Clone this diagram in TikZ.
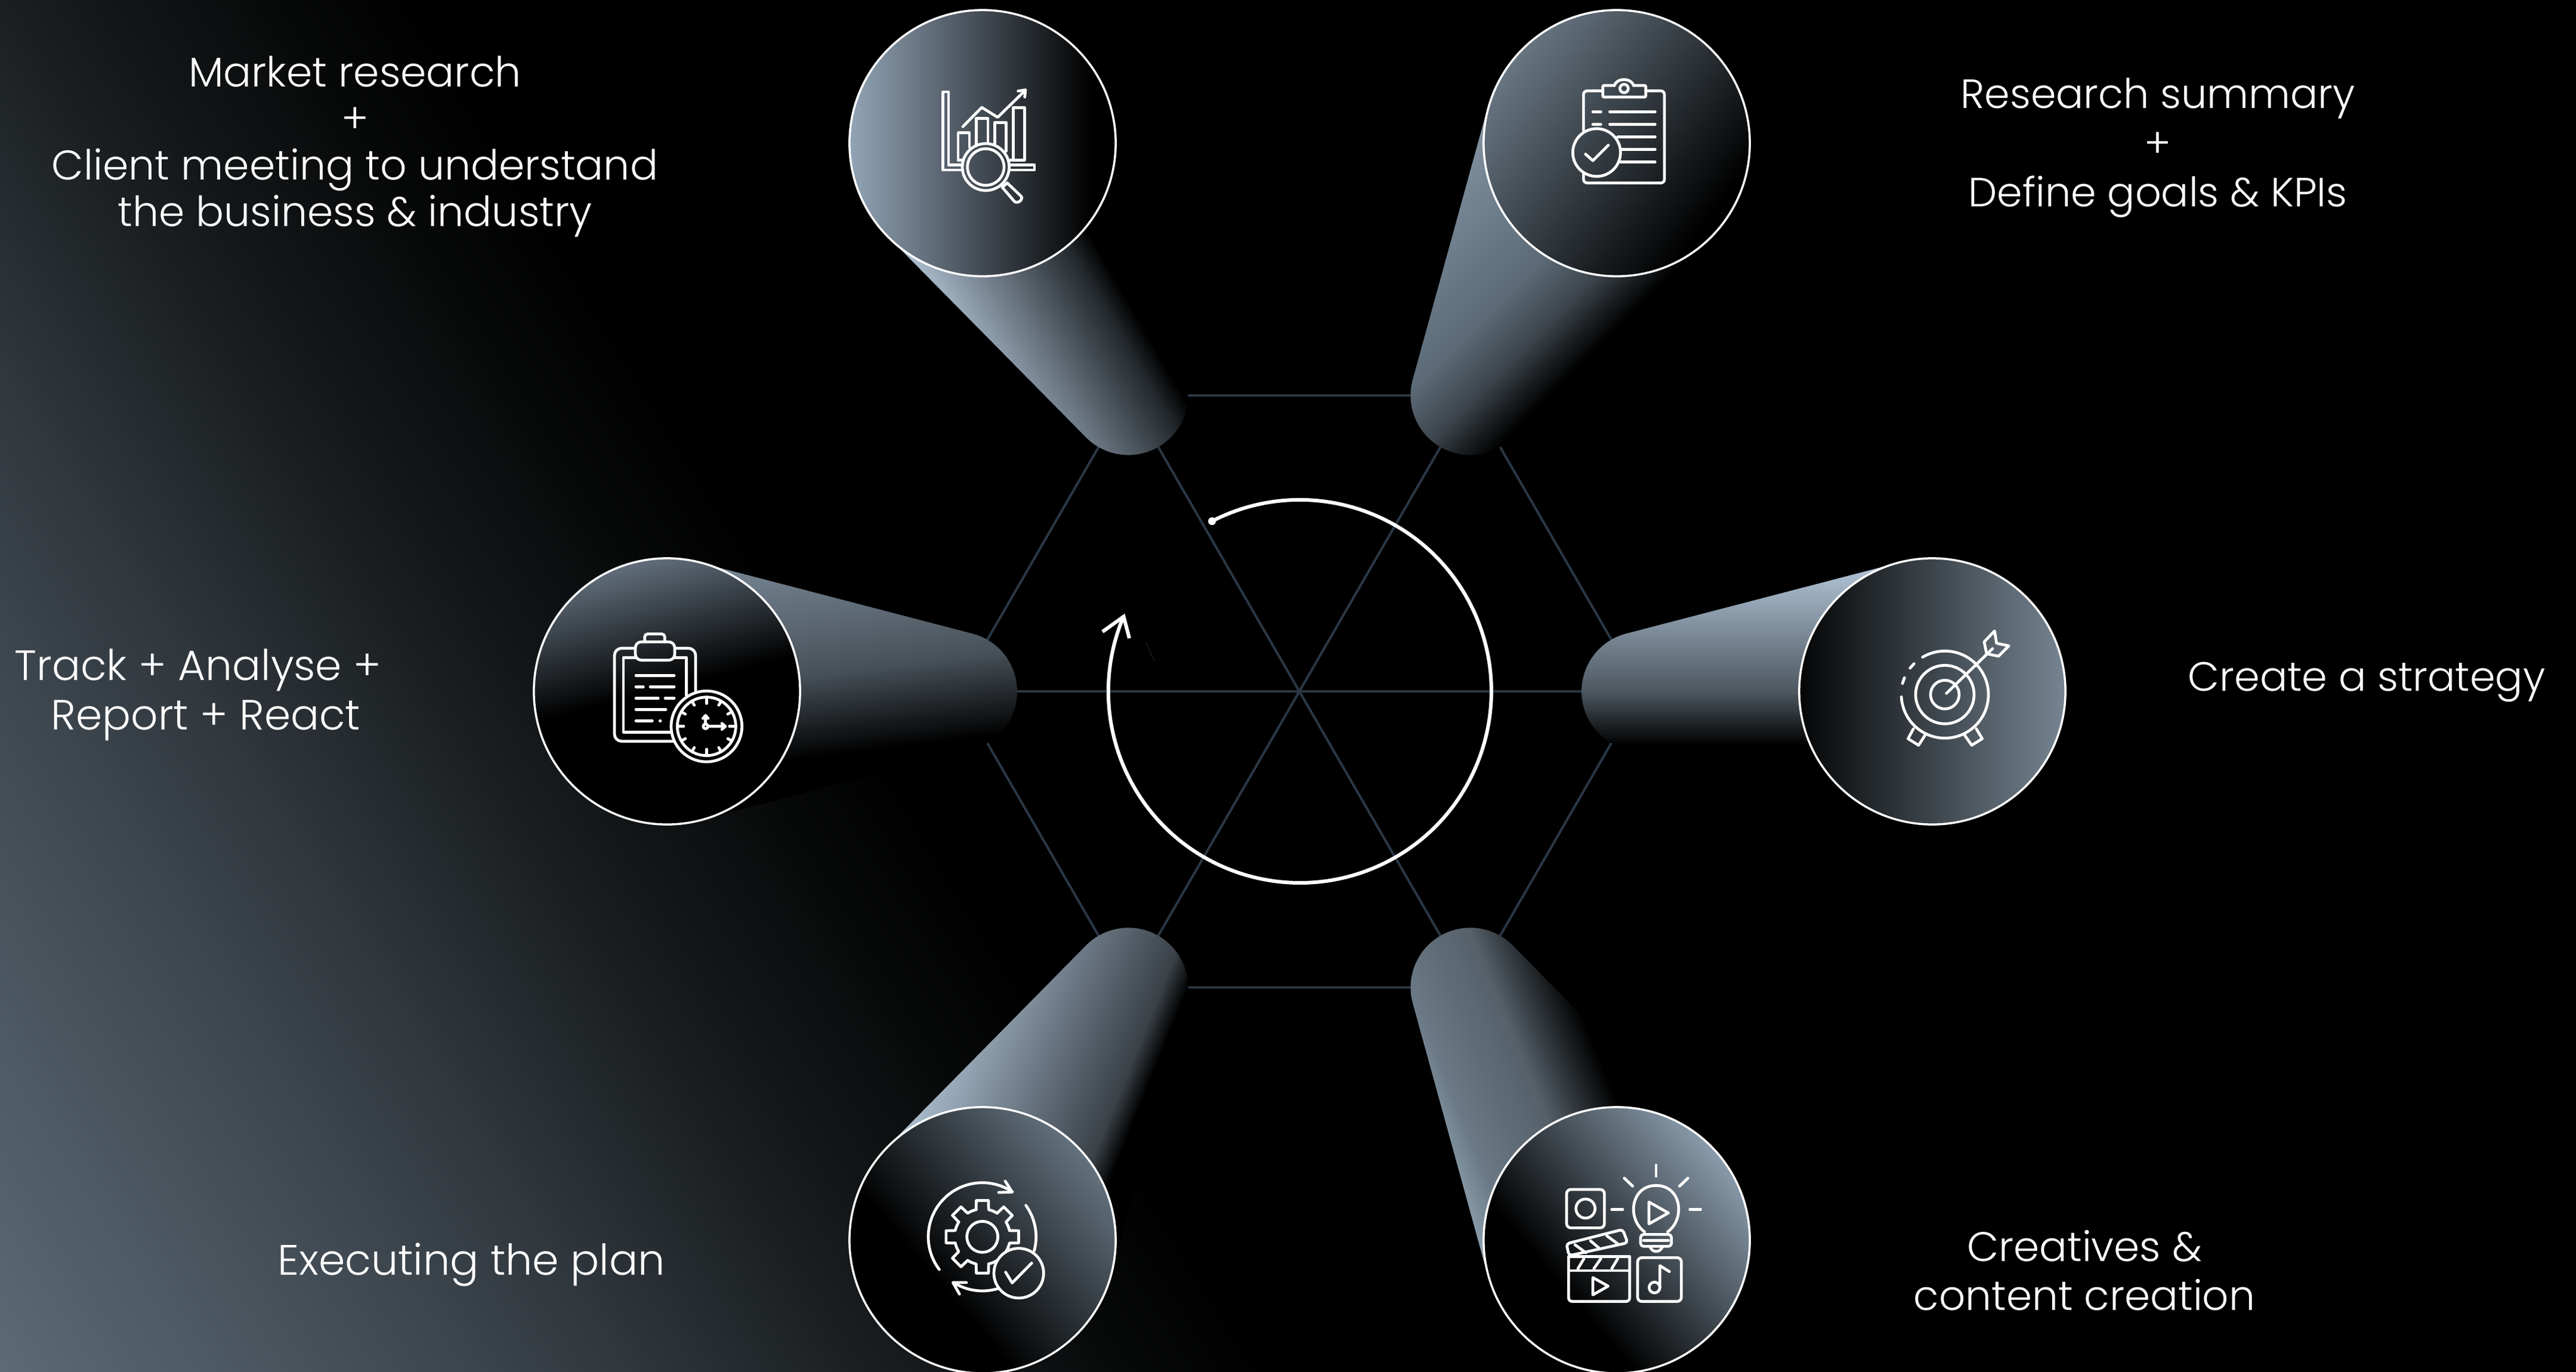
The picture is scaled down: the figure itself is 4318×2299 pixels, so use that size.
\documentclass[tikz,border=0pt]{standalone}
\usepackage{fontspec}
\usetikzlibrary{calc}
\setmainfont{Poppins}[UprightFont=* Light]
\definecolor{hexline}{HTML}{2A3744}
\definecolor{strayline}{HTML}{1C2530}
% tube colours
\definecolor{ta}{RGB}{170,188,205}\definecolor{ta0}{RGB}{35,40,44}
\definecolor{tb0}{RGB}{62,70,77}\definecolor{tb1}{RGB}{91,106,118}\definecolor{tb3}{RGB}{123,139,154}\definecolor{tb2}{RGB}{128,144,160}
\definecolor{tc1}{RGB}{77,87,96}\definecolor{tc2}{RGB}{172,191,209}
\definecolor{td1}{RGB}{85,96,105}\definecolor{td2}{RGB}{106,121,133}\definecolor{td3}{RGB}{150,170,185}
\definecolor{te1}{RGB}{58,65,71}\definecolor{te2}{RGB}{106,118,131}\definecolor{te}{RGB}{168,187,204}
\definecolor{tf1}{RGB}{72,81,89}\definecolor{tf2}{RGB}{118,133,147}
% disc colours
\definecolor{da}{RGB}{146,164,182}\definecolor{db}{RGB}{104,118,130}\definecolor{dc}{RGB}{118,133,146}
\definecolor{dd}{RGB}{137,155,171}\definecolor{de}{RGB}{100,114,126}\definecolor{df}{RGB}{97,110,122}
% background colours
\definecolor{bgy}{RGB}{6,7,7}\definecolor{bgz}{RGB}{12,14,15}\definecolor{bga}{RGB}{19,22,24}\definecolor{bgb}{RGB}{27,31,33}\definecolor{bgd}{RGB}{48,55,61}
\definecolor{bge}{RGB}{64,73,81}\definecolor{bgf}{RGB}{78,90,100}\definecolor{bgg}{RGB}{91,106,116}
\pgfdeclareverticalshading{tubeA}{100bp}{color(0bp)=(black);color(48.67bp)=(black);color(49.33bp)=(ta0);color(53.42bp)=(ta);color(100bp)=(ta)}
\pgfdeclareverticalshading{tubeB}{100bp}{color(0bp)=(black);color(46.3bp)=(black);color(47.83bp)=(tb0);color(49.15bp)=(tb1);color(52.5bp)=(tb3);color(52.83bp)=(tb2);color(100bp)=(tb2)}
\pgfdeclareverticalshading{tubeC}{100bp}{color(0bp)=(black);color(48.5bp)=(black);color(50bp)=(tc1);color(53.33bp)=(tc2);color(100bp)=(tc2)}
\pgfdeclareverticalshading{tubeD}{100bp}{color(0bp)=(black);color(48.5bp)=(black);color(50.5bp)=(td1);color(52.7bp)=(td2);color(54bp)=(td3);color(100bp)=(td3)}
\pgfdeclareverticalshading{tubeE}{100bp}{color(0bp)=(black);color(47.32bp)=(black);color(48bp)=(te1);color(50.33bp)=(te2);color(53.13bp)=(te);color(100bp)=(te)}
\pgfdeclareverticalshading{tubeF}{100bp}{color(0bp)=(black);color(47.67bp)=(black);color(50bp)=(tf1);color(53.33bp)=(tf2);color(100bp)=(tf2)}
\pgfdeclareverticalshading{discA}{100bp}{color(0bp)=(black);color(46.95bp)=(black);color(53.72bp)=(da);color(100bp)=(da)}
\pgfdeclareverticalshading{discB}{100bp}{color(0bp)=(black);color(46.67bp)=(black);color(53.72bp)=(db);color(100bp)=(db)}
\pgfdeclareverticalshading{discC}{100bp}{color(0bp)=(black);color(46.02bp)=(black);color(53.72bp)=(dc);color(100bp)=(dc)}
\pgfdeclareverticalshading{discD}{100bp}{color(0bp)=(black);color(47.98bp)=(black);color(53.72bp)=(dd);color(100bp)=(dd)}
\pgfdeclareverticalshading{discE}{100bp}{color(0bp)=(black);color(48.28bp)=(black);color(53.72bp)=(de);color(100bp)=(de)}
\pgfdeclareverticalshading{discF}{100bp}{color(0bp)=(black);color(50.08bp)=(black);color(53.72bp)=(df);color(100bp)=(df)}
\pgfdeclareverticalshading{bgshade}{100bp}{color(0bp)=(black);color(44.49bp)=(black);color(46.74bp)=(bgy);color(48.24bp)=(bgz);color(50.11bp)=(bga);color(51.99bp)=(bgb);color(56.11bp)=(bgd);color(59.74bp)=(bge);color(63.61bp)=(bgf);color(67.21bp)=(bgg);color(100bp)=(bgg)}
% square of half side 1500 whose centre is the reference point of the gradient
\newcommand\gradsq[4]{\shade[shading=#1,shading angle=#2] ({#3-1500},{#4-1500}) rectangle ({#3+1500},{#4+1500});}
% tapered tube from hub to disc, along direction #1
\newcommand\tube[5]{\begin{scope}
  \clip[shift={(2178,-1159)},rotate=#1] (1004.8,215.8) -- (547.8,96.8) arc[start angle=104.6,end angle=255.4,radius=100] -- (1004.8,-215.8) -- cycle;
  \gradsq{#2}{#3}{#4}{#5}
\end{scope}}
\newcommand\disc[5]{\begin{scope}
  \clip (#4,#5) circle[radius=223];
  \gradsq{#2}{#3}{#4}{#5}
\end{scope}
\node[ringnode] (#1) at (#4,#5) {};}
\newcommand\capfont[2]{\fontsize{#1pt}{#2pt}\selectfont}
\tikzset{
  ringnode/.style={circle,draw=white,line width=0.035cm,minimum size=4.46cm,inner sep=0pt},
  hexstroke/.style={draw=hexline,line width=0.04cm},
  iconstroke/.style={draw=white,line width=0.047cm,line cap=round,line join=round},
  captiontext/.style={text=white,align=center,inner sep=0pt},
  sweepline/.style={draw=white,line width=0.06cm},
  iconframe/.style={xscale=1/3,yscale=-1/3},
}
\begin{document}
\begin{tikzpicture}[x=0.01cm,y=0.01cm]
\useasboundingbox (0,0) rectangle (4318,-2299);
\fill[black] (-10,10) rectangle (4328,-2309);
% background glow
\begin{scope}
 \clip (-10,10) rectangle (4328,-2309);
 \shade[shading=bgshade,shading angle=122] (-1000,-3300) rectangle (3000,700);
\end{scope}
% hexagon frame
\coordinate (hub) at (2178,-1159);
\foreach \a/\n in {0/v0,60/v1,120/v2,180/v3,240/v4,300/v5}{\coordinate (\n) at ($(hub)+(\a:573)$);}
\foreach \n in {v0,v1,v2,v3,v4,v5}{\draw[hexstroke] (hub) -- (\n);}
\draw[hexstroke] (v0) -- (v1) -- (v2) -- (v3) -- (v4) -- (v5) -- cycle;
% tubes
\tube{120}{tubeA}{120}{1647}{-240}
\tube{60}{tubeB}{45}{2710}{-240}
\tube{0}{tubeC}{0}{3239}{-1159}
\tube{-60}{tubeD}{112.3}{2710}{-2079}
\tube{-120}{tubeE}{68}{1647}{-2079}
\tube{180}{tubeF}{6.9}{1118}{-1159}
% discs
\disc{discone}{discA}{90}{1647}{-240}
\disc{disctwo}{discB}{53.1}{2710}{-240}
\disc{discthree}{discC}{-90}{3239}{-1159}
\disc{discfour}{discD}{-49.5}{2710}{-2079}
\disc{discfive}{discE}{-49.5}{1647}{-2079}
\disc{discsix}{discF}{14.5}{1118}{-1159}
% central sweep
\coordinate (sweepstart) at (2031.6,-873.7);
\coordinate (wingone) at (1848,-1059);
\coordinate (sweeptip) at (1883.5,-1033.6);
\coordinate (wingtwo) at (1893,-1070);
\coordinate (strayone) at (1921,-1077);
\coordinate (straytwo) at (1935,-1108);
\draw[strayline,line width=0.01cm] (strayone) -- (straytwo);
\draw[sweepline] (sweepstart) arc[start angle=117.3,end angle=-203,radius=321];
\draw[sweepline] (wingone) -- (sweeptip) -- (wingtwo);
\fill[white] (sweepstart) circle[radius=6.5];
% icon: chart and magnifier
\begin{scope}[shift={(1500,-100)},iconframe]
 \draw[iconstroke] (340,555) -- (242,555) -- (242,162) -- (270,162) -- (270,530) -- (340,530);
 \draw[iconstroke] (580,530) -- (702,530) -- (702,555) -- (578,555);
 \draw[iconstroke] (345,505) -- (318,505) -- (318,368) -- (375,368) -- (375,440);
 \draw[iconstroke] (410,425) -- (410,295) -- (468,295) -- (468,420);
 \draw[iconstroke] (503,425) -- (503,317) -- (560,317) -- (560,460);
 \draw[iconstroke] (578,505) -- (595,505) -- (595,242) -- (652,242) -- (652,505) -- (595,505);
 \draw[iconstroke] (342,337) -- (437,240) -- (517,290) -- (655,155);
 \draw[iconstroke] (620,158) -- (657,152) -- (653,188);
 \draw[iconstroke] (457,540) circle[radius=118];
 \draw[iconstroke] (457,540) circle[radius=92];
 \draw[iconstroke] (565,620) -- (540,642) -- (600,712) .. controls (618,730) and (650,700) .. (633,685) -- (565,620);
\end{scope}
% icon: clipboard with check
\begin{scope}[shift={(2560,-90)},iconframe]
 \draw[iconstroke,rounded corners=0.06cm] (380,187) -- (283,187) -- (283,385);
 \draw[iconstroke,rounded corners=0.06cm] (596,187) -- (690,187) -- (690,650) -- (283,650) -- (283,605);
 \draw[iconstroke,rounded corners=0.02cm] (438,160) -- (380,160) -- (380,218) -- (596,218) -- (596,160) -- (535,160);
 \draw[iconstroke] (438,160) .. controls (450,120) and (523,120) .. (535,160);
 \draw[iconstroke] (487,175) circle[radius=21];
 \foreach \yy in {292,355}{\draw[iconstroke] (330,\yy) -- (370,\yy); \draw[iconstroke] (415,\yy) -- (643,\yy);}
 \draw[iconstroke] (455,418) -- (643,418);
 \draw[iconstroke] (470,481) -- (643,481);
 \draw[iconstroke] (470,544) -- (643,544);
 \draw[iconstroke] (349,497) circle[radius=120];
 \draw[iconstroke] (293,505) -- (330,538) -- (408,460);
\end{scope}
% icon: target
\begin{scope}[shift={(3130,-1010)},iconframe]
 \draw[iconstroke] (390,463) circle[radius=72];
 \draw[iconstroke] (390,463) circle[radius=147];
 \draw[iconstroke] (278,275) arc[start angle=-120.8,end angle=177,radius=219];
 \draw[iconstroke] (215,330) -- (235,308);
 \draw[iconstroke] (177,407) -- (187,378);
 \draw[iconstroke] (398,457) -- (630,232);
 \draw[iconstroke] (600,258) -- (588,198) -- (640,143) -- (650,205) -- (712,218) -- (660,270) -- cycle;
 \draw[iconstroke] (232,635) -- (205,685) -- (258,718) -- (290,668);
 \draw[iconstroke] (490,668) -- (525,718) -- (578,685) -- (548,635);
\end{scope}
% icon: creative assets
\begin{scope}[shift={(2580,-1930)},iconframe]
 \draw[iconstroke,rounded corners=0.07cm] (138,192) rectangle (328,385);
 \draw[iconstroke] (233,288) circle[radius=48];
 \draw[iconstroke] (365,292) -- (420,292);
 \draw[iconstroke] (530,405) .. controls (440,340) and (460,172) .. (588,172) .. controls (716,172) and (736,340) .. (646,405);
 \draw[iconstroke,rounded corners=0.05cm] (510,418) rectangle (665,478);
 \draw[iconstroke] (525,448) -- (650,448);
 \draw[iconstroke,rounded corners=0.04cm] (555,478) -- (572,503) -- (605,503) -- (622,478);
 \draw[iconstroke] (552,255) -- (552,365) -- (650,310) -- cycle;
 \draw[iconstroke] (588,70) -- (588,125);
 \draw[iconstroke] (428,135) -- (470,175);
 \draw[iconstroke] (748,135) -- (706,175);
 \draw[iconstroke] (758,292) -- (812,292);
 \draw[iconstroke,rounded corners=0.06cm] (148,530) -- (148,755) -- (455,755) -- (455,530);
 \draw[iconstroke] (148,530) -- (455,530);
 \draw[iconstroke] (148,600) -- (455,600);
 \draw[iconstroke] (195,590) -- (225,540);
 \draw[iconstroke] (275,590) -- (310,540);
 \draw[iconstroke] (365,590) -- (395,540);
 \draw[iconstroke,rounded corners=0.05cm] (137,465) -- (420,393) -- (445,460) -- (150,525) -- cycle;
 \draw[iconstroke] (180,470) -- (235,510);
 \draw[iconstroke] (258,450) -- (305,490);
 \draw[iconstroke] (340,425) -- (395,465);
 \draw[iconstroke] (270,635) -- (270,722) -- (347,678) -- cycle;
 \draw[iconstroke,rounded corners=0.07cm] (495,535) rectangle (715,755);
 \draw[iconstroke] (580,685) circle[radius=27];
 \draw[iconstroke] (607,685) -- (607,575) -- (655,605);
\end{scope}
% icon: gear cycle
\begin{scope}[shift={(1520,-1960)},iconframe]
 \begin{scope}[even odd rule]
  \clip (0,0) rectangle (900,750) (563,523) circle[radius=125];
  \begin{scope}[shift={(380,340)}]
   \foreach \a in {0,45,...,315}{
    \draw[iconstroke] (\a-13:140) -- (\a-9.5:185) -- (\a+9.5:185) -- (\a+13:140) arc[start angle=\a+13,end angle=\a+32,radius=140];
   }
   \draw[iconstroke] (0,0) circle[radius=78];
  \end{scope}
 \end{scope}
 \begin{scope}[shift={(380,340)}]
  \draw[iconstroke] (142.8:272) arc[start angle=142.8,end angle=303.7,radius=272];
  \draw[iconstroke] (-35.9:270) arc[start angle=-35.9,end angle=15,radius=270];
  \draw[iconstroke] (72.5:272) arc[start angle=72.5,end angle=122,radius=272];
 \end{scope}
 \draw[iconstroke] (495,60) -- (530,115) -- (462,117);
 \draw[iconstroke] (300,570) -- (232,570) -- (265,628);
 \draw[iconstroke] (563,523) circle[radius=125];
 \draw[iconstroke] (497,518) -- (530,572) -- (628,472);
\end{scope}
% icon: clipboard with clock
\begin{scope}[shift={(990,-1040)},iconframe]
 \draw[iconstroke,rounded corners=0.12cm] (225,140) -- (120,140) -- (120,608) -- (415,608);
 \draw[iconstroke,rounded corners=0.12cm] (423,140) -- (528,140) -- (528,355);
 \draw[iconstroke] (405,562) -- (165,562) -- (165,187) -- (225,187);
 \draw[iconstroke] (423,187) -- (482,187) -- (482,378);
 \draw[iconstroke,rounded corners=0.1cm] (225,200) -- (225,108) -- (423,108) -- (423,200) -- cycle;
 \draw[iconstroke,rounded corners=0.05cm] (272,108) -- (272,68) -- (373,68) -- (373,108);
 \draw[iconstroke] (228,277) -- (420,277);
 \draw[iconstroke] (228,334) -- (265,334);
 \draw[iconstroke] (300,334) -- (420,334);
 \draw[iconstroke] (228,391) -- (340,391);
 \draw[iconstroke] (375,391) -- (420,391);
 \draw[iconstroke] (228,448) -- (378,448);
 \draw[iconstroke] (228,505) -- (310,505);
 \draw[iconstroke] (349,505) -- (351,505);
 \draw[iconstroke] (583,533) circle[radius=178];
 \draw[iconstroke] (583,533) circle[radius=147];
 \begin{scope}[shift={(583,533)}]
  \foreach \a in {0,90,180,270}{\draw[iconstroke] (\a:147) -- (\a:115);}
  \foreach \a in {30,60,120,150,210,240,300,330}{\draw[iconstroke] (\a:147) -- (\a:123);}
 \end{scope}
 \draw[iconstroke] (578,533) circle[radius=12];
 \draw[iconstroke] (590,533) -- (675,533);
 \draw[iconstroke] (660,518) -- (678,533) -- (660,548);
 \draw[iconstroke] (578,520) -- (578,480);
 \draw[iconstroke] (565,493) -- (578,478) -- (591,493);
\end{scope}
% captions
\node[captiontext,font=\capfont{19.8}{22.2}] (capmarket) at (595,-246) {Market research\\+\\Client meeting to understand\\the business \& industry};
\node[captiontext,font=\capfont{19.45}{23.4}] (capsummary) at (3617,-248) {Research summary\\+\\Define goals \& KPIs};
\node[captiontext,font=\capfont{19.5}{22.2}] (capstrategy) at (3967,-1143) {Create a strategy};
\node[captiontext,font=\capfont{20.2}{23.4}] (captrack) at (345,-1165) {Track + Analyse +\hspace*{0.26cm}\\Report + React};
\node[captiontext,font=\capfont{20.3}{22.2}] (capplan) at (790,-2120) {Executing the plan};
\node[captiontext,font=\capfont{19.7}{23.4}] (capcreative) at (3494,-2130) {Creatives \&\\content creation};
\end{tikzpicture}
\end{document}
